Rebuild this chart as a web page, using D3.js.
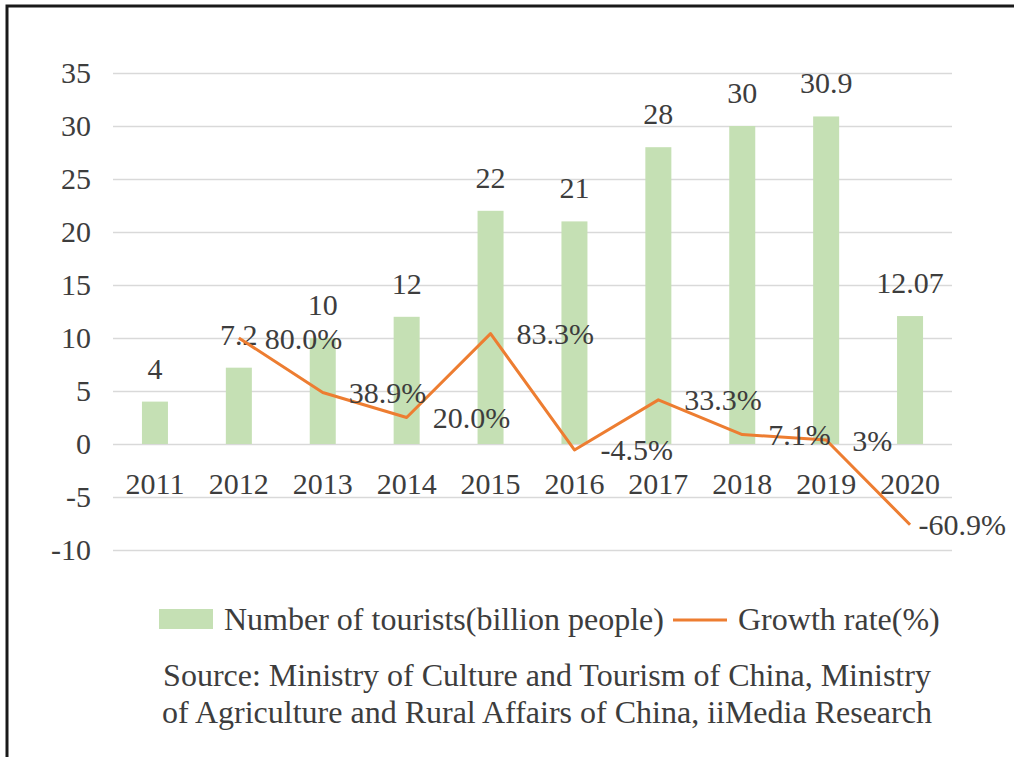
<!DOCTYPE html>
<html>
<head>
<meta charset="utf-8">
<script src="https://cdn.jsdelivr.net/npm/d3@7"></script>
<style>
  body { margin: 0; background: #fff; }
  svg { display: block; font-family: "Liberation Serif", "Times New Roman", serif; }
</style>
</head>
<body>
<svg id="chart"></svg>
<script>
// chart data
const years = ["2011", "2012", "2013", "2014", "2015", "2016", "2017", "2018", "2019", "2020"];
const tourists = [4, 7.2, 10, 12, 22, 21, 28, 30, 30.9, 12.07];
const touristLabels = ["4", "7.2", "10", "12", "22", "21", "28", "30", "30.9", "12.07"];
const growth = [null, 80.0, 38.9, 20.0, 83.3, -4.5, 33.3, 7.1, 3, -60.9];
const growthLabels = [null, "80.0%", "38.9%", "20.0%", "83.3%", "-4.5%", "33.3%", "7.1%", "3%", "-60.9%"];
const yTicks = [-10, -5, 0, 5, 10, 15, 20, 25, 30, 35];

const W = 1014, H = 757;
const textColor = "#3d3d3d", fontSize = 30, noteSize = 32;

const svg = d3.select("#chart").attr("width", W).attr("height", H);

//frame (top and left edges only)
svg.append("path")
    .attr("d", `M7,${H} V6 H${W}`)
    .attr("fill", "none")
    .attr("stroke", "#1a1a1a")
    .attr("stroke-width", 3);

//scales
const x = d3.scaleBand().domain(years).range([113, 952]).paddingInner(0.69).paddingOuter(0.345);
const y = d3.scaleLinear().domain([-10, 35]).range([550, 73]);
const yRate = d3.scaleLinear().domain([-80, 280]).range([550, 73]); //hidden secondary axis
const cx = d => x(d) + x.bandwidth() / 2;

//gridlines
svg.append("g")
    .attr("transform", "translate(113,0)")
    .call(d3.axisLeft(y).tickValues(yTicks).tickSize(-(952 - 113)).tickFormat(""))
    .call(g => g.select(".domain").remove())
    .call(g => g.selectAll("line").attr("stroke", "#d9d9d9").attr("stroke-width", 1.3));

//y labels
svg.append("g")
    .attr("transform", "translate(91,0)")
    .call(d3.axisLeft(y).tickValues(yTicks).tickSize(0).tickPadding(0).tickFormat(d => String(d)))
    .call(g => g.select(".domain").remove())
    .call(g => g.selectAll("text")
        .attr("font-size", fontSize).attr("font-family", "Liberation Serif")
        .attr("fill", textColor));

//bars
svg.append("g").selectAll("rect")
    .data(years)
    .join("rect")
    .attr("x", d => x(d))
    .attr("width", x.bandwidth())
    .attr("y", (d, i) => y(tourists[i]))
    .attr("height", (d, i) => y(0) - y(tourists[i]))
    .attr("fill", "#c5e0b4");

//bar value labels
svg.append("g").selectAll("text")
    .data(years)
    .join("text")
    .attr("x", d => cx(d))
    .attr("y", (d, i) => y(tourists[i]) - 23)
    .attr("text-anchor", "middle")
    .attr("font-size", fontSize)
    .attr("fill", textColor)
    .text((d, i) => touristLabels[i]);

//x labels
svg.append("g")
    .attr("transform", `translate(0,${y(0)})`)
    .call(d3.axisBottom(x).tickSize(0).tickPadding(0))
    .call(g => g.select(".domain").remove())
    .call(g => g.selectAll("text")
        .attr("y", 50).attr("dy", 0)
        .attr("font-size", fontSize).attr("font-family", "Liberation Serif")
        .attr("fill", textColor));

//growth line
const pts = years.map((d, i) => ({ year: d, v: growth[i], label: growthLabels[i] })).filter(p => p.v !== null);

svg.append("path")
    .datum(pts)
    .attr("fill", "none")
    .attr("stroke", "#ed7d31")
    .attr("stroke-width", 3)
    .attr("stroke-linejoin", "round")
    .attr("d", d3.line().x(p => cx(p.year)).y(p => yRate(p.v)));

//growth labels, placed right of the point and kept inside the page
svg.append("g").selectAll("text")
    .data(pts)
    .join("text")
    .attr("y", p => yRate(p.v))
    .attr("dy", "0.35em")
    .attr("font-size", fontSize)
    .attr("fill", textColor)
    .text(p => p.label)
    .attr("x", function (p) {
        const w = this.getComputedTextLength();
        return Math.min(cx(p.year) + 26, W - 8 - w);
    });

//legend
const legend = svg.append("g");
legend.append("rect").attr("x", 159).attr("y", 609).attr("width", 54).attr("height", 20).attr("fill", "#c5e0b4");
legend.append("text").attr("x", 224).attr("y", 630).attr("font-size", noteSize).attr("fill", textColor)
    .text("Number of tourists(billion people)");
legend.append("line").attr("x1", 673).attr("x2", 727).attr("y1", 620).attr("y2", 620)
    .attr("stroke", "#ed7d31").attr("stroke-width", 3);
legend.append("text").attr("x", 738).attr("y", 630).attr("font-size", noteSize).attr("fill", textColor)
    .text("Growth rate(%)");

//source note
const source = ["Source: Ministry of Culture and Tourism of China, Ministry",
    "of Agriculture and Rural Affairs of China, iiMedia Research"];
svg.append("g").selectAll("text")
    .data(source)
    .join("text")
    .attr("x", 547)
    .attr("y", (d, i) => 686 + i * 37)
    .attr("text-anchor", "middle")
    .attr("font-size", noteSize)
    .attr("fill", textColor)
    .text(d => d);
</script>
</body>
</html>
